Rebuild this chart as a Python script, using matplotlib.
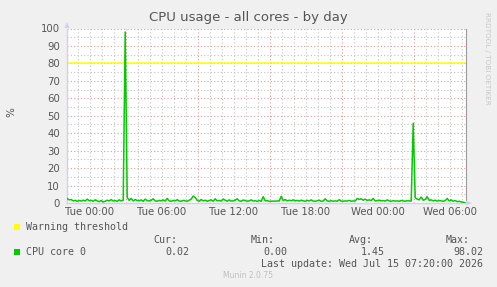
import numpy as np
import matplotlib
matplotlib.use("Agg")
import matplotlib.pyplot as plt
from matplotlib.patches import Rectangle, Polygon

W, H = 497, 287

# ---- data (hours relative to Tue 00:00, 10-minute samples) ----
start_hour = -1.9
step_hour = 1 / 6
cpu_core0 = [
    2.5, 1.8, 2.0, 1.2, 1.5, 1.0, 1.4, 1.1, 1.6, 1.2, 2.2, 1.3,
    1.5, 1.0, 1.8, 1.2, 0.8, 1.4, 0.6, 1.0, 1.6, 1.2, 2.0, 1.1,
    1.4, 0.9, 1.8, 1.2, 1.6, 98.02, 3.2, 1.5, 2.6, 1.2, 2.0, 1.4,
    1.3, 1.8, 1.0, 2.2, 1.4, 1.1, 1.6, 2.4, 1.2, 1.0, 1.5, 1.2,
    1.8, 1.1, 2.6, 1.2, 1.0, 1.4, 1.2, 1.9, 1.1, 1.0, 1.5, 1.2,
    1.0, 1.6, 2.2, 4.0, 3.2, 1.5, 1.0, 2.0, 1.2, 1.6, 1.0, 1.4,
    1.8, 1.0, 2.4, 1.2, 1.5, 1.1, 2.3, 1.6, 1.0, 1.8, 1.1, 1.2,
    1.6, 2.4, 1.2, 1.0, 1.7, 1.4, 1.0, 1.2, 1.8, 1.1, 1.3, 0.9,
    1.4, 1.0, 3.6, 1.2, 1.3, 1.0, 1.0, 1.1, 1.0, 1.2, 1.1, 3.8,
    1.4, 2.0, 1.2, 1.6, 1.3, 1.8, 1.2, 1.5, 1.1, 1.6, 1.2, 1.0,
    1.5, 1.2, 1.8, 1.1, 1.0, 1.2, 1.6, 1.0, 1.1, 2.4, 1.2, 1.0,
    1.3, 1.0, 1.2, 1.0, 1.9, 1.1, 1.0, 1.2, 1.1, 1.5, 1.0, 1.2,
    1.1, 2.6, 2.0, 2.4, 1.6, 2.2, 1.5, 1.8, 1.4, 2.6, 1.2, 1.3,
    1.6, 1.2, 1.4, 1.1, 1.8, 1.2, 1.0, 1.3, 1.1, 1.2, 1.0, 1.4,
    1.2, 1.0, 1.3, 1.2, 1.1, 45.7, 3.0, 2.2, 1.8, 3.4, 1.6, 2.0,
    3.6, 1.5, 1.8, 1.2, 1.6, 1.1, 1.4, 1.2, 1.0, 1.3, 2.6, 1.2,
    1.8, 1.0, 1.4, 0.8, 1.0, 0.6, 0.5, 0.02,
]
warning_threshold = 80
x_tick_hours = [0, 6, 12, 18, 24, 30]
x_tick_labels = ["Tue 00:00", "Tue 06:00", "Tue 12:00", "Tue 18:00", "Wed 00:00", "Wed 06:00"]
y_ticks = [0, 10, 20, 30, 40, 50, 60, 70, 80, 90, 100]
stats_labels = ["Cur:", "Min:", "Avg:", "Max:"]
stats_values = ["0.02", "0.00", "1.45", "98.02"]
x_min, x_max = -1.917, 31.333

hours = start_hour + step_hour * np.arange(len(cpu_core0))

fig = plt.figure(figsize=(W / 100, H / 100), dpi=100, facecolor="#f0f0f0")

def px(x, y):
    return x / W, 1 - y / H

left, right, top, bottom = 67, 466, 28.5, 203
ax = fig.add_axes([left / W, 1 - bottom / H, (right - left) / W, (bottom - top) / H])
ax.set_facecolor("white")
ax.set_xlim(x_min, x_max)
ax.set_ylim(0, 100)

# grid
for v in range(5, 100, 10):
    ax.axhline(v, color="#c4c4c4", lw=0.8, ls=(0, (1, 2)), zorder=1)
for v in range(10, 101, 10):
    ax.axhline(v, color="#e09a9a", lw=0.8, ls=(0, (1, 2)), zorder=1)
for h in range(-1, 32):
    if (h - 3) % 6 == 0:
        ax.axvline(h, color="#e09a9a", lw=0.8, ls=(0, (1, 2)), zorder=1)
    else:
        ax.axvline(h, color="#c4c4c4", lw=0.8, ls=(0, (1, 2)), zorder=1)

ax.axhline(warning_threshold, color="#ffff00", lw=1.1, zorder=2)
ax.plot(hours, cpu_core0, color="#00cc00", lw=1.1, zorder=3)

ax.spines["top"].set_visible(False)
ax.spines["right"].set_color("#999999")
ax.spines["left"].set_color("#d0d0f0")
ax.spines["bottom"].set_color("#d0d0f0")
ax.spines["left"].set_linewidth(1.0)
ax.spines["bottom"].set_linewidth(1.0)

ax.set_yticks(y_ticks)
ax.set_yticklabels([str(v) for v in y_ticks])
ax.set_xticks(x_tick_hours)
ax.set_xticklabels(x_tick_labels)
ax.tick_params(axis="both", length=0, labelsize=7.3, colors="#555555", labelcolor="#555555")
ax.tick_params(axis="y", pad=5)
ax.tick_params(axis="x", pad=3)

# arrows
fig.patches.append(Polygon([px(64.5, 28), px(69.5, 28), px(67, 22)], closed=True,
                           transform=fig.transFigure, facecolor="#d0d0f0", edgecolor="none"))
fig.patches.append(Polygon([px(466, 200.5), px(466, 205.5), px(472, 203)], closed=True,
                           transform=fig.transFigure, facecolor="#d0d0f0", edgecolor="none"))

# texts
fig.text(*px(248, 18), "CPU usage - all cores - by day", ha="center", va="center",
         fontsize=9.5, color="#555555")
fig.text(*px(11, 112), "%", ha="center", va="center", rotation=90, fontsize=7.5, color="#555555")
fig.text(*px(487, 58), "RRDTOOL / TOBI OETIKER", ha="center", va="center", rotation=270,
         fontsize=5.2, color="#c8c8c8")

mono = dict(family="DejaVu Sans Mono", fontsize=7.2, color="#555555", va="center")
fig.patches.append(Rectangle(px(14, 230), 6 / W, 6 / H, transform=fig.transFigure,
                             facecolor="#ffff00", edgecolor="none"))
fig.text(*px(26, 227), "Warning threshold", ha="left", **mono)
stat_label_right = [177, 275, 373, 470]
stat_value_right = [189, 287, 385, 483]
for lab, xr in zip(stats_labels, stat_label_right):
    fig.text(*px(xr, 240), lab, ha="right", **mono)
fig.patches.append(Rectangle(px(14, 255), 6 / W, 6 / H, transform=fig.transFigure,
                             facecolor="#00cc00", edgecolor="none"))
fig.text(*px(26, 252), "CPU core 0", ha="left", **mono)
for val, xr in zip(stats_values, stat_value_right):
    fig.text(*px(xr, 252), val, ha="right", **mono)
fig.text(*px(483, 264), "Last update: Wed Jul 15 07:20:00 2026", ha="right", **mono)
fig.text(*px(248, 276), "Munin 2.0.75", ha="center", va="center", fontsize=5.5, color="#c0c0c0")

fig.savefig("out.png", dpi=100, facecolor=fig.get_facecolor())
